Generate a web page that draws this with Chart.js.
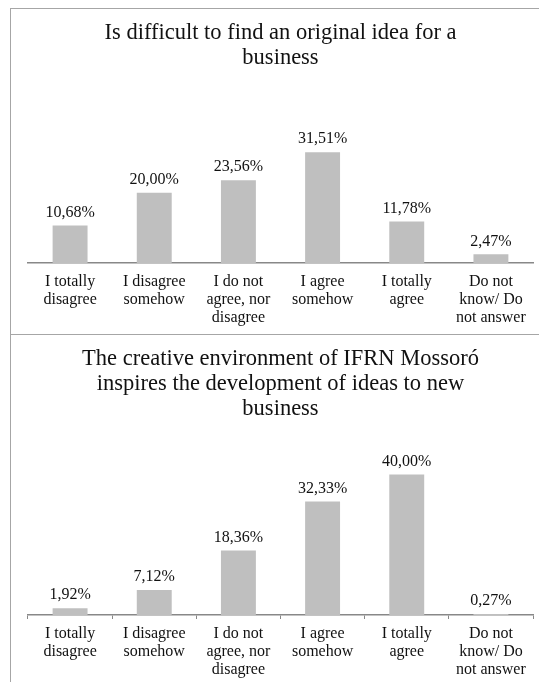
<!DOCTYPE html>
<html>
<head>
<meta charset="utf-8">
<script src="https://cdn.jsdelivr.net/npm/chart.js@4"></script>
<style>
  body { margin: 0; background: #fff; width: 539px; height: 682px; overflow: hidden; position: relative; }
  .box { position: absolute; left: 10px; width: 540px; border: 1px solid #a6a6a6; box-sizing: border-box; }
  #box1 { top: 8px; height: 327px; }
  #box2 { top: 335px; height: 420px; border-top: none; }
  canvas { display: block; }
</style>
</head>
<body>
<div class="box" id="box1"><canvas id="chart1" width="538" height="325"></canvas></div>
<div class="box" id="box2"><canvas id="chart2" width="538" height="400"></canvas></div>
<script>
const categories = [
  ['I totally', 'disagree'],
  ['I disagree', 'somehow'],
  ['I do not', 'agree, nor', 'disagree'],
  ['I agree', 'somehow'],
  ['I totally', 'agree'],
  ['Do not', 'know/ Do', 'not answer']
]
const ideaTitle = ['Is difficult to find an original idea for a', 'business']
const ideaValues = [10.68, 20.00, 23.56, 31.51, 11.78, 2.47]
const envTitle = ['The creative environment of IFRN Mossoró', 'inspires the development of ideas to new', 'business']
const envValues = [1.92, 7.12, 18.36, 32.33, 40.00, 0.27]

const serif = '"Liberation Serif", "Times New Roman", serif'

// draws the "10,68%" labels above each bar
const valueLabels = {
  id: 'valueLabels',
  afterDatasetsDraw(chart) {
    const ctx = chart.ctx
    const meta = chart.getDatasetMeta(0)
    const values = chart.data.datasets[0].data
    ctx.save()
    ctx.font = '16px ' + serif
    ctx.fillStyle = '#111'
    ctx.textAlign = 'center'
    ctx.textBaseline = 'middle'
    meta.data.forEach((bar, i) => {
      ctx.fillText(values[i].toFixed(2).replace('.', ',') + '%', bar.x, bar.y - 13)
    })
    ctx.restore()
  }
}

function makeChart (id, title, values, opts) {
  const ctx = document.getElementById(id).getContext('2d')
  return new Chart(ctx, {
    type: 'bar',
    data: {
      labels: categories,
      datasets: [{
        data: values,
        backgroundColor: '#bfbfbf',
        categoryPercentage: 1,
        barPercentage: 0.415
      }]
    },
    plugins: [valueLabels],
    options: {
      responsive: false,
      animation: false,
      layout: { padding: { left: 17, right: 16, top: 0, bottom: 0 } },
      plugins: {
        legend: { display: false },
        tooltip: { enabled: false },
        title: {
          display: true,
          text: title,
          color: '#111',
          font: { family: serif, size: 22.5, weight: 'normal', lineHeight: 25 / 22.5 },
          padding: { top: 12, bottom: opts.titleBottom }
        }
      },
      scales: {
        x: {
          grid: {
            display: opts.ticks,
            drawOnChartArea: false,
            drawTicks: opts.ticks,
            tickLength: 4,
            color: '#888'
          },
          border: { display: true, color: '#888', width: 1.5 },
          ticks: {
            color: '#111',
            maxRotation: 0,
            autoSkip: false,
            padding: opts.ticks ? 6 : 10,
            font: { family: serif, size: 16, lineHeight: 18 / 16 }
          },
          afterFit: (scale) => { scale.height = opts.axisHeight }
        },
        y: {
          display: false,
          min: 0,
          max: opts.max
        }
      }
    }
  })
}

makeChart('chart1', ideaTitle, ideaValues, { max: 35, titleBottom: 69, axisHeight: 71, ticks: false })
makeChart('chart2', envTitle, envValues, { max: 45, titleBottom: 35, axisHeight: 120, ticks: true })
</script>
</body>
</html>
